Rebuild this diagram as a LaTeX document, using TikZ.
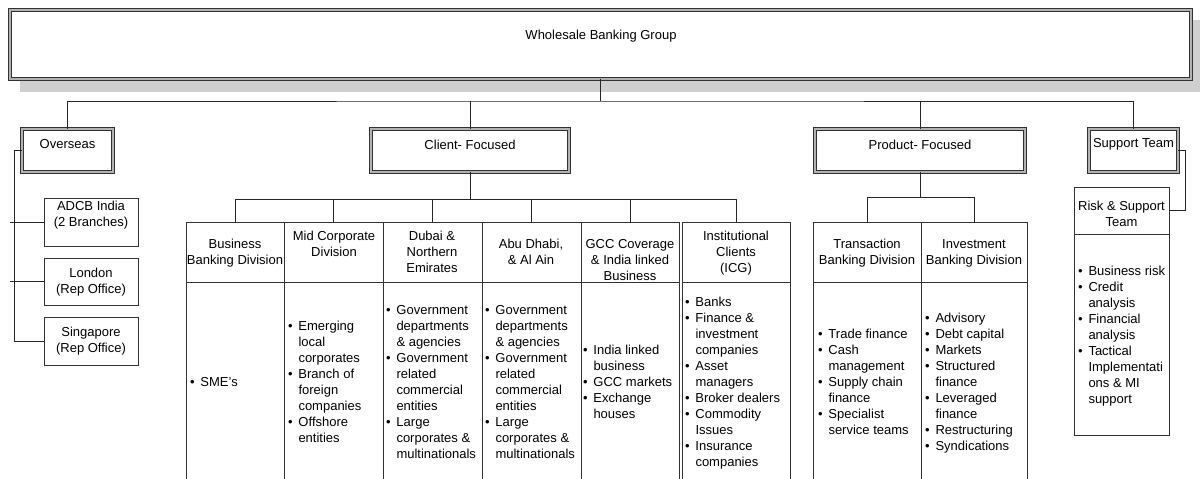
\documentclass[tikz,border=0pt]{standalone}
\usepackage{fontspec}
\setmainfont{Liberation Sans}
\newcommand{\Bul}[1]{\makebox[10.5pt][l]{\textbullet}#1}
\newcommand{\Cont}[1]{\hspace*{10.5pt}#1}
\newcommand{\Ctab}[1]{\begin{tabular}{@{}c@{}}#1\end{tabular}}
\newcommand{\Ltab}[1]{\begin{tabular}{@{}l@{}}#1\end{tabular}}
\tikzset{
  basefont/.style={font=\fontsize{13}{16}\selectfont, text=black},
  dbox/.style={draw=black!80, line width=1pt, double=black!30, double distance=2pt, fill=white, inner sep=0pt, outer sep=0pt},
  sbox/.style={draw=black!80, line width=1pt, fill=white, inner sep=0pt, outer sep=0pt},
  txt/.style={basefont, inner sep=0pt, outer sep=0pt},
  lst/.style={basefont, inner sep=0pt, outer sep=0pt, anchor=west},
  conn/.style={draw=black!85, line width=1pt},
}
\begin{document}
\begin{tikzpicture}[x=1pt,y=-1pt]
\useasboundingbox (0,0) rectangle (1200,479);
\clip (0,0) rectangle (1200,479);
\fill[white] (0,0) rectangle (1200,479);

% ---- top box with shadow
\fill[black!19] (20,20) rectangle (1204,92);
\node[dbox, minimum width=1181pt, minimum height=69pt] (top) at (600,44) {};
\node[txt] (toptxt) at (601,36.5) {Wholesale Banking Group};

% ---- second level
\node[dbox, minimum width=91pt, minimum height=43pt] (over) at (67.5,150.5) {};
\node[txt] (overtxt) at (67.5,144.5) {Overseas};
\node[dbox, minimum width=198pt, minimum height=43pt] (client) at (470,150.5) {};
\node[txt] (clienttxt) at (470,144.5) {Client- Focused};
\node[dbox, minimum width=210pt, minimum height=43pt] (prod) at (920,150.5) {};
\node[txt] (prodtxt) at (920,144.5) {Product- Focused};
\node[dbox, minimum width=89pt, minimum height=43pt] (supp) at (1133.5,150.5) {};
\node[txt] (supptxt) at (1133.5,144.5) {Support Team};

% top connectors
\coordinate (bus) at (600,101);
\draw[conn] (top.south) -- (bus);
\draw[conn] (over.north) |- (bus) -| (supp.north);
\draw[conn] (client.north) -- (client.north |- bus);
\draw[conn] (prod.north) -- (prod.north |- bus);

% ---- overseas branch
\node[sbox, minimum width=94pt, minimum height=48pt] (adcb) at (91,222) {};
\node[txt] (adcbtxt) at (91,215.5) {\Ctab{ADCB India\\(2 Branches)}};
\node[sbox, minimum width=94pt, minimum height=47pt] (lond) at (91,281.5) {};
\node[txt] (londtxt) at (91,282) {\Ctab{London\\(Rep Office)}};
\node[sbox, minimum width=94pt, minimum height=48pt] (sing) at (91,341) {};
\node[txt] (singtxt) at (91,341.5) {\Ctab{Singapore\\(Rep Office)}};
\draw[conn] (over.west) -- ++(-8,0) |- (sing.west);
\draw[conn] (adcb.west) -- ++(-34,0);
\draw[conn] (lond.west) -- ++(-34,0);

% ---- client-focused columns
\node[sbox, minimum width=98pt, minimum height=60pt] (bbh) at (235,252) {};
\node[sbox, minimum width=98pt, minimum height=200pt] (bbb) at (235,382) {};
\node[sbox, minimum width=99pt, minimum height=60pt] (mch) at (333.5,252) {};
\node[sbox, minimum width=99pt, minimum height=200pt] (mcb) at (333.5,382) {};
\node[sbox, minimum width=99pt, minimum height=60pt] (dbh) at (432.5,252) {};
\node[sbox, minimum width=99pt, minimum height=200pt] (dbb) at (432.5,382) {};
\node[sbox, minimum width=99pt, minimum height=60pt] (adh) at (531.5,252) {};
\node[sbox, minimum width=99pt, minimum height=200pt] (adb) at (531.5,382) {};
\node[sbox, minimum width=98pt, minimum height=60pt] (gch) at (630,252) {};
\node[sbox, minimum width=98pt, minimum height=200pt] (gcb) at (630,382) {};
\node[sbox, minimum width=108pt, minimum height=60pt] (icgh) at (736,252) {};
\node[sbox, minimum width=108pt, minimum height=200pt] (icgb) at (736,382) {};

\coordinate (cbus) at (470,199);
\draw[conn] (client.south) -- (cbus);
\foreach \n in {bbh,mch,dbh,adh,gch,icgh}{
  \draw[conn] (\n.north) |- (cbus);
}

\node[txt] (bbt) at (235,253.5) {\Ctab{Business\\Banking Division}};
\node[txt] (mct) at (334,245.5) {\Ctab{Mid Corporate\\Division}};
\node[txt] (dbt) at (432,253.5) {\Ctab{Dubai \&\\Northern\\Emirates}};
\node[txt] (adt) at (531,253.5) {\Ctab{Abu Dhabi,\\\& Al Ain}};
\node[txt] (gct) at (630,261.5) {\Ctab{GCC Coverage\\\& India linked\\Business}};
\node[txt] (icgt) at (736,253) {\Ctab{Institutional\\Clients\\(ICG)}};

\node[lst] (bbl) at (190,383.5) {\Ltab{\Bul{SME’s}}};
\node[lst] (mcl) at (288,383.5) {\Ltab{\Bul{Emerging}\\\Cont{local}\\\Cont{corporates}\\\Bul{Branch of}\\\Cont{foreign}\\\Cont{companies}\\\Bul{Offshore}\\\Cont{entities}}};
\node[lst] (dbl) at (386,383.5) {\Ltab{\Bul{Government}\\\Cont{departments}\\\Cont{\& agencies}\\\Bul{Government}\\\Cont{related}\\\Cont{commercial}\\\Cont{entities}\\\Bul{Large}\\\Cont{corporates \&}\\\Cont{multinationals}}};
\node[lst] (adl) at (485,383.5) {\Ltab{\Bul{Government}\\\Cont{departments}\\\Cont{\& agencies}\\\Bul{Government}\\\Cont{related}\\\Cont{commercial}\\\Cont{entities}\\\Bul{Large}\\\Cont{corporates \&}\\\Cont{multinationals}}};
\node[lst] (gcl) at (583,383.5) {\Ltab{\Bul{India linked}\\\Cont{business}\\\Bul{GCC markets}\\\Bul{Exchange}\\\Cont{houses}}};
\node[lst] (icgl) at (685,383.5) {\Ltab{\Bul{Banks}\\\Bul{Finance \&}\\\Cont{investment}\\\Cont{companies}\\\Bul{Asset}\\\Cont{managers}\\\Bul{Broker dealers}\\\Bul{Commodity}\\\Cont{Issues}\\\Bul{Insurance}\\\Cont{companies}}};

% ---- product-focused columns
\node[sbox, minimum width=108pt, minimum height=60pt] (tbh) at (867,252) {};
\node[sbox, minimum width=108pt, minimum height=200pt] (tbb) at (867,382) {};
\node[sbox, minimum width=106pt, minimum height=60pt] (ibh) at (974,252) {};
\node[sbox, minimum width=106pt, minimum height=200pt] (ibb) at (974,382) {};
\coordinate (pbus) at (920,197);
\draw[conn] (prod.south) -- (pbus);
\draw[conn] (tbh.north) |- (pbus);
\draw[conn] (ibh.north) |- (pbus);

\node[txt] (tbt) at (867,253.5) {\Ctab{Transaction\\Banking Division}};
\node[txt] (ibt) at (974,253.5) {\Ctab{Investment\\Banking Division}};
\node[lst] (tbl) at (818,383.5) {\Ltab{\Bul{Trade finance}\\\Bul{Cash}\\\Cont{management}\\\Bul{Supply chain}\\\Cont{finance}\\\Bul{Specialist}\\\Cont{service teams}}};
\node[lst] (ibl) at (925,383.5) {\Ltab{\Bul{Advisory}\\\Bul{Debt capital}\\\Bul{Markets}\\\Bul{Structured}\\\Cont{finance}\\\Bul{Leveraged}\\\Cont{finance}\\\Bul{Restructuring}\\\Bul{Syndications}}};

% ---- support team
\node[sbox, minimum width=95pt, minimum height=47pt] (rsh) at (1121.5,210.5) {};
\node[sbox, minimum width=95pt, minimum height=201pt] (rsb) at (1121.5,334.5) {};
\draw[conn] (supp.east) -- ++(7,0) |- (rsh.east);
\node[txt] (rst) at (1121.5,215) {\Ctab{Risk \& Support\\Team}};
\node[lst] (rsl) at (1078,336.5) {\Ltab{\Bul{Business risk}\\\Bul{Credit}\\\Cont{analysis}\\\Bul{Financial}\\\Cont{analysis}\\\Bul{Tactical}\\\Cont{Implementati}\\\Cont{ons \& MI}\\\Cont{support}}};
\end{tikzpicture}
\end{document}
